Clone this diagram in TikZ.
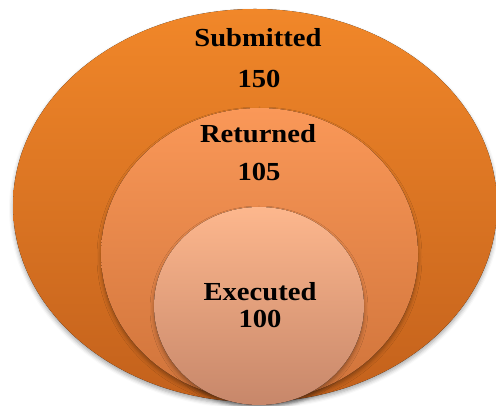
\documentclass[tikz,border=0pt]{standalone}
\usepackage{fontspec}
\newfontfamily\labfont{Liberation Serif}
\usetikzlibrary{shadows.blur}
\definecolor{subtop}{HTML}{F18729}
\definecolor{subbot}{HTML}{C3611C}
\definecolor{rettop}{HTML}{FA9858}
\definecolor{retbot}{HTML}{CF733A}
\definecolor{exetop}{HTML}{FDB78D}
\definecolor{exebot}{HTML}{C7876A}

\begin{document}
\begin{tikzpicture}[x=1pt,y=1pt,
    every node/.style={inner sep=0pt,outer sep=0pt},
    lab/.style={anchor=base,xscale=1.1,
                font=\labfont\fontsize{26}{30}\selectfont\bfseries},
    disc/.style={blur shadow={shadow xshift=0pt,shadow yshift=-3pt,
                 shadow blur radius=4pt,shadow opacity=35}}]
  \useasboundingbox (0,0) rectangle (496,406);
  % ---- 三层集合 ----
  \fill[disc,top color=subtop,bottom color=subbot]
    (255,200.5) ellipse [x radius=242,y radius=196.5];
  \fill[disc,top color=rettop,bottom color=retbot]
    (259.5,152) ellipse [x radius=158.5,y radius=146];
  \fill[disc,top color=exetop,bottom color=exebot]
    (259,100) ellipse [x radius=105,y radius=99];
  % ---- 标签（基线）----
  \node[lab] (submitted) at (258,359.3) {Submitted};
  \node[lab] (n150)      at (259,318.7) {150};
  \node[lab] (returned)  at (258,263.3) {Returned};
  \node[lab] (n105)      at (259,225)   {105};
  \node[lab] (executed)  at (260,105.3) {Executed};
  \node[lab] (n100)      at (260,78.7)  {100};
\end{tikzpicture}
\end{document}
